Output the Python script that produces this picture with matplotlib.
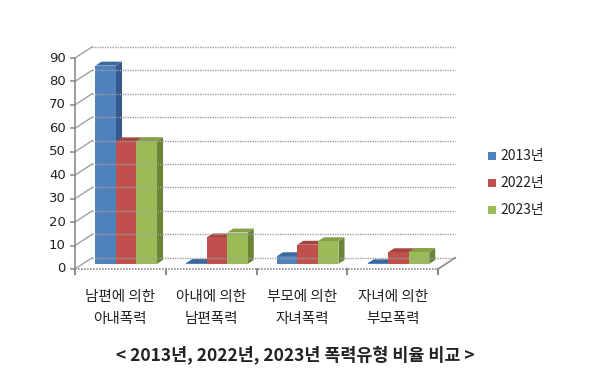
import numpy as np
import matplotlib.pyplot as plt
from matplotlib.patches import Polygon

plt.rcParams['font.family'] = ['Noto Sans CJK KR', 'DejaVu Sans']

# data
categories = ['남편에 의한\n아내폭력', '아내에 의한\n남편폭력', '부모에 의한\n자녀폭력', '자녀에 의한\n부모폭력']
years = ['2013년', '2022년', '2023년']
v2013 = [84.6, 0.4, 3.3, 0.3]
v2022 = [52.3, 11.3, 8.2, 5.0]
v2023 = [52.4, 13.4, 9.7, 5.1]
yticks = list(range(0, 100, 10))
title = '< 2013년, 2022년, 2023년 폭력유형 비율 비교 >'

# face colours: front, side, top
cols = [('#4F81BD', '#35598A', '#3D679F'),
        ('#C0504D', '#8A3432', '#A34441'),
        ('#9BBB59', '#6B8537', '#84A148')]

DX, DY = 0.19, 4.8      # floor depth offset (category units, value units)
F, D = 0.45, 0.35       # bar front depth fraction, bar depth fraction
BW, B0 = 0.226, 0.14    # bar width and first-bar offset

fig = plt.figure(figsize=(5.93, 3.88), dpi=100)
ax = fig.add_axes([75 / 593, 119 / 388, 363 / 593, 211 / 388])
ax.set_xlim(0, 4)
ax.set_ylim(0, 90)
ax.axis('off')

n = len(categories)
grid = '#a0a0a0'
axc = '#8c8c8c'

# back wall gridlines and left wall diagonals
for t in yticks:
    ax.plot([DX, n + DX], [t + DY, t + DY], color=grid, lw=1, ls=(0, (1, 0.8)), clip_on=False)
    ax.plot([0, DX], [t, t + DY], color=grid, lw=1, clip_on=False)
    ax.plot([-0.04, 0], [t, t], color=axc, lw=1.2, clip_on=False)
    ax.text(-0.1, t, str(t), ha='right', va='center', fontsize=9.5, color='#222222',
            family=['DejaVu Sans'])
ax.plot([0, 0], [0, 90], color=axc, lw=1.2, clip_on=False)

# floor
ax.plot([0, n], [0, 0], color=axc, lw=1.2, ls=(0, (1, 0.8)), clip_on=False)
ax.plot([n, n + DX], [0, DY], color=axc, lw=1.2, clip_on=False)
for i in range(n + 1):
    ax.plot([i, i], [0, -2.2], color=axc, lw=1.5, clip_on=False)

# bars
series = [v2013, v2022, v2023]
for i in range(n):
    for j, vals in enumerate(series):
        v = vals[i]
        x0 = i + B0 + j * BW + F * DX
        y0 = F * DY
        x1 = x0 + BW
        dx, dy = D * DX, D * DY
        front, side, top = cols[j]
        ax.add_patch(Polygon([(x1, y0), (x1 + dx, y0 + dy), (x1 + dx, y0 + v + dy), (x1, y0 + v)],
                             closed=True, fc=side, ec='none', clip_on=False))
        ax.add_patch(Polygon([(x0, y0 + v), (x0 + dx, y0 + v + dy), (x1 + dx, y0 + v + dy), (x1, y0 + v)],
                             closed=True, fc=top, ec='none', clip_on=False))
        ax.bar(x0, v, width=BW, bottom=y0, align='edge', color=front, edgecolor='none', clip_on=False)

# category labels
for i, c in enumerate(categories):
    ax.text(i + 0.5, -9, c, ha='center', va='top', fontsize=10.5, color='#222222', linespacing=1.7)

# legend
for j, y in enumerate(years):
    fig.patches.append(plt.Rectangle((488 / 593, 1 - 160 / 388 - j * 27 / 388), 8 / 593, 8 / 388,
                                     transform=fig.transFigure, fc=cols[j][0], ec='none'))
    fig.text(500 / 593, 1 - 156 / 388 - j * 27 / 388, y, ha='left', va='center', fontsize=10,
             color='#222222')

fig.text(295 / 593, 1 - 355 / 388, title, ha='center', va='center', fontsize=12.5,
         fontweight='bold', color='#222222')

fig.savefig('out.png', dpi=100, facecolor='white')
